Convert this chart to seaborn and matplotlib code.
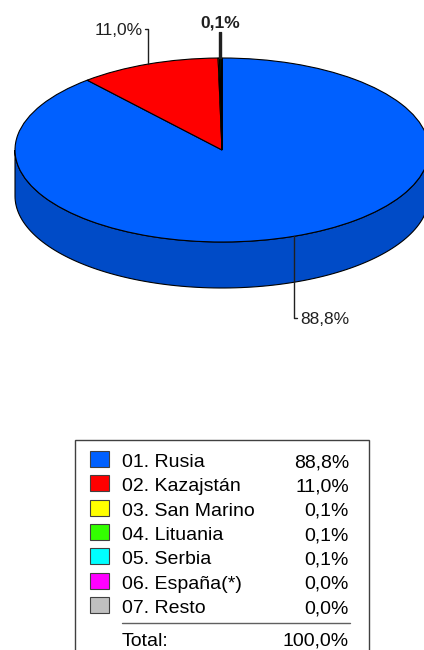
import numpy as np
import matplotlib
matplotlib.use("Agg")
import matplotlib.pyplot as plt
from matplotlib.patches import Polygon, Rectangle
import seaborn as sns

# Cuota por país (%)
paises = ["01. Rusia", "02. Kazajstán", "03. San Marino", "04. Lituania",
          "05. Serbia", "06. España(*)", "07. Resto"]
cuotas = [88.8, 11.0, 0.1, 0.1, 0.1, 0.0, 0.0]
colores = ["#0060FF", "#FF0000", "#FFFF00", "#33FF00", "#00FFFF", "#FF00FF", "#C0C0C0"]
total_txt = "100,0%"

sns.set_theme(style="white")
plt.rcParams["font.family"] = ["Liberation Sans", "DejaVu Sans"]

W, H = 424, 650
fig = plt.figure(figsize=(W / 100, H / 100), dpi=100)

def fmt(v):
    return f"{v:.1f}".replace(".", ",") + "%"

# ---- pie (top ellipse + extruded side) ----
cx, cy, rx, ry, depth = 222, 150, 207, 92, 46
top_px = 340
ax = fig.add_axes([0, 1 - top_px / H, 1, top_px / H])
wedges, _ = ax.pie(cuotas, colors=colores, startangle=90, counterclock=False,
                   wedgeprops=dict(edgecolor="black", linewidth=0.8))
ax.set_aspect("auto")
ax.set_xlim((0 - cx) / rx, (W - cx) / rx)
ax.set_ylim((cy - top_px) / ry, cy / ry)
ax.axis("off")

def py2y(py):
    return (cy - py) / ry

d = depth / ry
for w in wedges:
    t1, t2 = w.theta1, w.theta2
    fc = np.array(w.get_facecolor()[:3]) * 0.78
    for off in (-360, 0, 360):
        a, b = max(t1, 180 + off), min(t2, 360 + off)
        if b <= a:
            continue
        t = np.radians(np.linspace(a, b, 120))
        xs = np.cos(t)
        ys = np.sin(t)
        pts = np.column_stack([np.r_[xs, xs[::-1]], np.r_[ys, ys[::-1] - d]])
        ax.add_patch(Polygon(pts, closed=True, facecolor=fc, edgecolor="black",
                             linewidth=0.8, zorder=0.5))

# value labels with leader lines
fs = 12.5
small = []
for w, v in zip(wedges, cuotas):
    if v <= 0:
        continue
    mid = np.radians((w.theta1 + w.theta2) / 2)
    x0, y0 = np.cos(mid), np.sin(mid)
    if v < 1:
        # thin slices at the top share one stacked label
        ax.plot([x0, x0], [y0, py2y(32)], color="#202020", lw=1.0, zorder=3)
        small.append((x0, v))
    elif y0 > 0:
        ytop = py2y(29)
        ax.plot([x0, x0, x0 - 3 / rx], [y0, ytop, ytop], color="#202020", lw=1.0, zorder=3)
        ax.text(x0 - 6 / rx, py2y(35), fmt(v), ha="right", va="baseline",
                fontsize=fs, color="#202020", zorder=3)
    else:
        ybot = py2y(318)
        ax.plot([x0, x0, x0 + 3 / rx], [y0, ybot, ybot], color="#202020", lw=1.0, zorder=3)
        ax.text(x0 + 6 / rx, py2y(324), fmt(v), ha="left", va="baseline",
                fontsize=fs, color="#202020", zorder=3)
if small:
    xs_small = [s[0] for s in small]
    ax.text(np.mean(xs_small), py2y(27), fmt(small[0][1]), ha="center",
            va="baseline", fontsize=fs, fontweight="bold", color="#202020", zorder=3)

# ---- legend table ----
lfs = 14
lg = fig.add_axes([0, 0, 1, 1])
lg.set_xlim(0, W)
lg.set_ylim(H, 0)
lg.axis("off")
lg.patch.set_alpha(0)
lg.add_patch(Rectangle((75, 440), 294, 220, facecolor="white",
                       edgecolor="#404040", linewidth=1.0))
row0, step = 467, 24.35
for i, (p, v, c) in enumerate(zip(paises, cuotas, colores)):
    base = row0 + i * step
    lg.add_patch(Rectangle((89.5, base - 16), 19, 16, facecolor=c,
                           edgecolor="#404040", linewidth=0.8))
    lg.text(122, base, p, ha="left", va="baseline", fontsize=lfs, color="black")
    lg.text(349, base, fmt(v), ha="right", va="baseline", fontsize=lfs, color="black")
lg.plot([122, 350], [623, 623], color="#606060", lw=1.0)
lg.text(122, 646, "Total:", ha="left", va="baseline", fontsize=lfs, color="black")
lg.text(349, 646, total_txt, ha="right", va="baseline", fontsize=lfs, color="black")

fig.savefig("out.png", dpi=100, facecolor="white")
